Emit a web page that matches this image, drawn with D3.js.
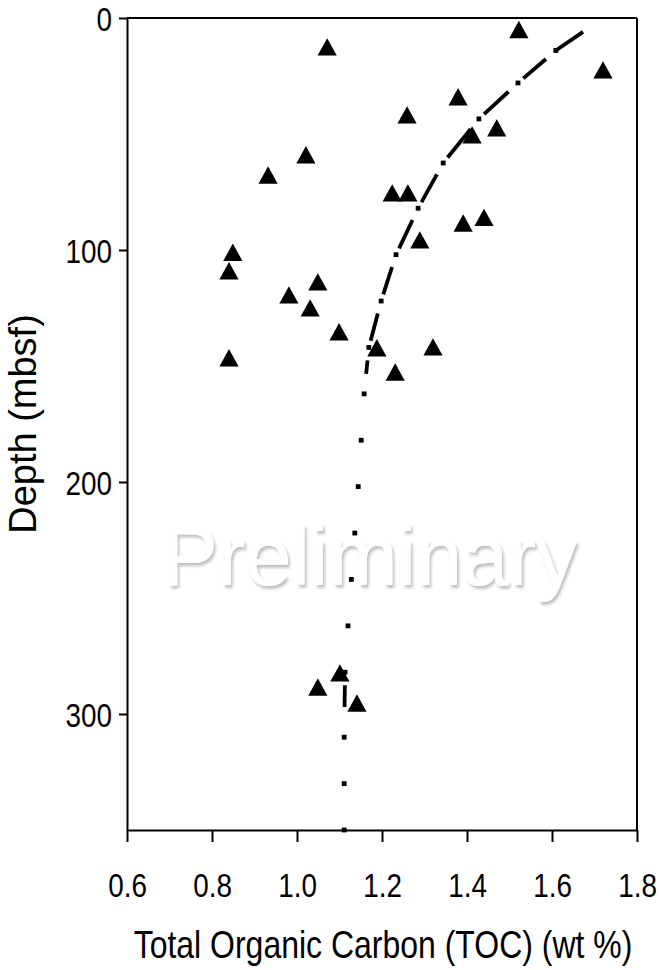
<!DOCTYPE html>
<html>
<head>
<meta charset="utf-8">
<script src="https://cdn.jsdelivr.net/npm/d3@7/dist/d3.min.js"></script>
<style>
  html, body { margin: 0; padding: 0; background: #fff; }
  svg { display: block; }
</style>
</head>
<body>
<svg id="chart" width="661" height="970"></svg>
<script>
// Sample measurements: total organic carbon (wt %) against depth (mbsf)
const tocValues   = [1.522, 1.071, 1.72, 1.379, 1.259, 1.47, 1.412, 1.021, 0.932, 1.224, 1.261, 1.391, 1.44, 1.289,
                     0.849, 0.84, 1.049, 0.981, 1.031, 1.099, 1.188, 1.32, 0.84, 1.231, 1.101, 1.049, 1.141];
const depthValues = [5.0, 12.5, 22.4, 34, 41.8, 47.4, 50.4, 59, 67.7, 75.4, 75.4, 88.4, 86, 95.7,
                     101, 109, 113.8, 119.4, 125, 135.3, 142.2, 141.8, 146.5, 152.6, 282.3, 288.4, 295.3];

// Fitted TOC trend (polyline vertices)
const fitDepth = [6, 14, 28, 43.5, 62.5, 82, 102, 122, 142, 162, 182, 202, 222, 242, 262, 282, 310, 330, 350];
const fitToc   = [1.673, 1.609, 1.52, 1.428, 1.344, 1.285, 1.233, 1.198, 1.169, 1.158, 1.151, 1.144, 1.136,
                  1.128, 1.120, 1.113, 1.111, 1.111, 1.111];
// Depth intervals backed by samples, where the fit is drawn with dashes
const fitDataRanges = [[6, 153.4], [282, 297]];

const xTicks = [0.6, 0.8, 1.0, 1.2, 1.4, 1.6, 1.8];
const yTicks = [0, 100, 200, 300];
const xTitle = "Total Organic Carbon (TOC) (wt %)";
const yTitle = "Depth (mbsf)";
const stamp = "Preliminary";

const svg = d3.select("#chart");
const FONT = "'Liberation Sans', Arial, Helvetica, sans-serif";
const NARROW = 0.82;

const x = d3.scaleLinear().domain([0.6, 1.8]).range([127, 637]);
const y = d3.scaleLinear().domain([0, 350]).range([18, 830]);

// Drop shadow used by the stamp text
const defs = svg.append("defs");
const shadow = defs.append("filter").attr("id", "stampShadow")
  .attr("x", "-10%").attr("y", "-20%").attr("width", "120%").attr("height", "150%");
shadow.append("feDropShadow")
  .attr("dx", 2).attr("dy", 3).attr("stdDeviation", 1.6)
  .attr("flood-color", "#000").attr("flood-opacity", 0.25);

// Frame: top and right borders
const frame = svg.append("g").attr("stroke", "#000").attr("stroke-width", 2).attr("fill", "none");
frame.append("line").attr("x1", x(0.6)).attr("x2", x(1.8)).attr("y1", y(0)).attr("y2", y(0));
frame.append("line").attr("x1", x(1.8)).attr("x2", x(1.8)).attr("y1", y(0)).attr("y2", y(350));

// Bottom axis
const gx = svg.append("g").attr("transform", `translate(0,${y(350)})`)
  .call(d3.axisBottom(x).tickValues(xTicks).tickFormat(d3.format(".1f")).tickSizeInner(12).tickSizeOuter(0));
gx.select(".domain").attr("stroke-width", 2);
gx.selectAll(".tick line").attr("stroke-width", 2);
gx.selectAll(".tick text")
  .attr("font-family", FONT).attr("font-size", 34).attr("fill", "#000")
  .attr("y", 67).attr("dy", null)
  .attr("transform", `scale(${NARROW},1)`);

// Left axis
const gy = svg.append("g").attr("transform", `translate(${x(0.6)},0)`)
  .call(d3.axisLeft(y).tickValues(yTicks).tickFormat(d3.format("d")).tickSizeInner(8).tickSizeOuter(0));
gy.select(".domain").attr("stroke-width", 2);
gy.selectAll(".tick line").attr("stroke-width", 2);
gy.selectAll(".tick text")
  .attr("font-family", FONT).attr("font-size", 34).attr("fill", "#000")
  .attr("x", -15 / NARROW).attr("y", 12).attr("dy", null)
  .attr("transform", `scale(${NARROW},1)`);

// Axis titles
svg.append("text")
  .attr("transform", `translate(383,958) scale(${NARROW},1)`)
  .attr("text-anchor", "middle").attr("font-family", FONT).attr("font-size", 39)
  .text(xTitle);
svg.append("text")
  .attr("transform", "translate(36,424) rotate(-90)")
  .attr("text-anchor", "middle").attr("font-family", FONT).attr("font-size", 38)
  .text(yTitle);

// Fit line: dashes over sampled intervals, square dots at every vertex
const fitPts = fitDepth.map((d, i) => ({ d, px: x(fitToc[i]), py: y(d) }));
const leadGap = 13, tailGap = 7;
const dashes = [];
for (let i = 0; i < fitPts.length - 1; i++) {
  const a = fitPts[i], b = fitPts[i + 1];
  const L = Math.hypot(b.px - a.px, b.py - a.py);
  const s0 = i === 0 ? 0 : leadGap / L;
  const s1 = i === 0 ? 1 : Math.max(s0, (L - tailGap) / L);
  const dAt = s => a.d + (b.d - a.d) * s;
  for (const [r0, r1] of fitDataRanges) {
    const lo = Math.max(dAt(s0), r0), hi = Math.min(dAt(s1), r1);
    if (hi > lo) {
      const u0 = (lo - a.d) / (b.d - a.d), u1 = (hi - a.d) / (b.d - a.d);
      dashes.push({
        x1: a.px + (b.px - a.px) * u0, y1: a.py + (b.py - a.py) * u0,
        x2: a.px + (b.px - a.px) * u1, y2: a.py + (b.py - a.py) * u1
      });
    }
  }
}
const fitG = svg.append("g");
fitG.selectAll("line.fit").data(dashes).join("line")
  .attr("class", "fit")
  .attr("x1", d => d.x1).attr("y1", d => d.y1).attr("x2", d => d.x2).attr("y2", d => d.y2)
  .attr("stroke", "#000").attr("stroke-width", 3.8).attr("stroke-linecap", "butt");
fitG.selectAll("rect.dot").data(fitPts.slice(1)).join("rect")
  .attr("class", "dot")
  .attr("x", d => d.px - 2.4).attr("y", d => d.py - 2.4)
  .attr("width", 4.8).attr("height", 4.8).attr("fill", "#000");

// Sample markers (filled triangles)
const samples = tocValues.map((t, i) => ({ t, d: depthValues[i] }));
svg.append("g").selectAll("path").data(samples).join("path")
  .attr("transform", d => `translate(${x(d.t)},${y(d.d)})`)
  .attr("d", "M0,-8.8L9.6,8.6L-9.6,8.6Z")
  .attr("fill", "#000");

// Stamp across the plot
svg.append("text")
  .attr("x", 370).attr("y", 585)
  .attr("text-anchor", "middle").attr("font-family", FONT).attr("font-size", 83)
  .attr("fill", "#fff").attr("filter", "url(#stampShadow)")
  .text(stamp);
</script>
</body>
</html>
